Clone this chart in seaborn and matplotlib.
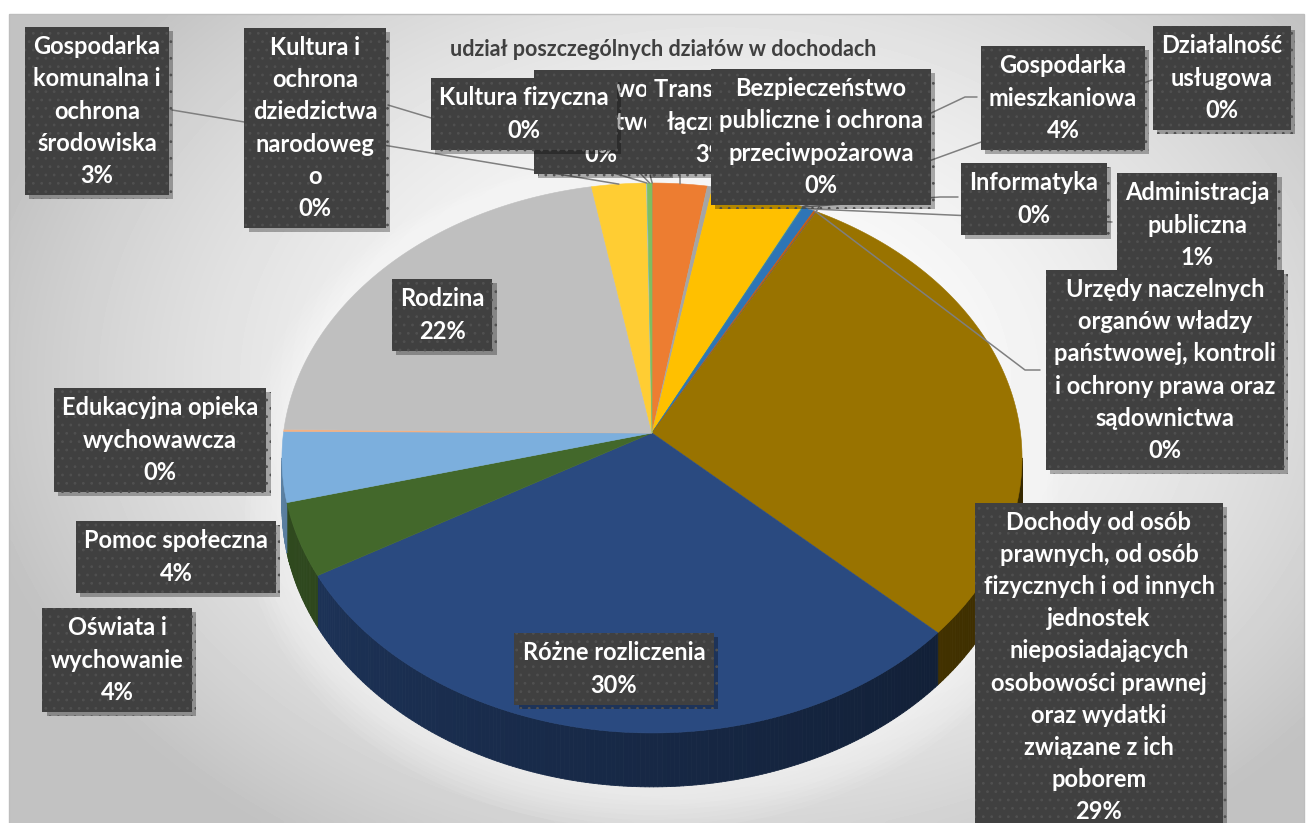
import numpy as np
import matplotlib.pyplot as plt
import matplotlib.patheffects as pe
from matplotlib.collections import PolyCollection
from matplotlib.patches import Rectangle
import seaborn as sns

# ---- data ----
categories = [
    "Rolnictwo i\nłowiectwo",
    "Transport i\nłączność",
    "Turystyka",
    "Gospodarka\nmieszkaniowa",
    "Działalność\nusługowa",
    "Informatyka",
    "Administracja\npubliczna",
    "Urzędy naczelnych\norganów władzy\npaństwowej, kontroli\ni ochrony prawa oraz\nsądownictwa",
    "Bezpieczeństwo\npubliczne i ochrona\nprzeciwpożarowa",
    "Dochody od osób\nprawnych, od osób\nfizycznych i od innych\njednostek\nnieposiadających\nosobowości prawnej\noraz wydatki\nzwiązane z ich\npoborem",
    "Różne rozliczenia",
    "Oświata i\nwychowanie",
    "Pomoc społeczna",
    "Edukacyjna opieka\nwychowawcza",
    "Rodzina",
    "Gospodarka\nkomunalna i\nochrona\nśrodowiska",
    "Kultura i\nochrona\ndziedzictwa\nnarodoweg\no",
    "Kultura fizyczna",
]
shares = [0.02, 2.6, 0.25, 4.4, 0.02, 0.02, 0.55, 0.1, 0.04,
          29.0, 29.6, 4.3, 4.1, 0.12, 21.9, 2.6, 0.03, 0.23]
slice_colors = ["#4472C4", "#ED7D31", "#A5A5A5", "#FFC000", "#5B9BD5", "#70AD47",
                "#2E75B6", "#C55A11", "#636363", "#997300", "#2A4A80", "#43682B",
                "#7CAFDD", "#F4B183", "#BFBFBF", "#FFCD33", "#9DC3E6", "#7FBF5F"]
title = "udział poszczególnych działów w dochodach"

# ---- layout (pixel coordinates) ----
label_pos = {0: (601, 122), 1: (712, 122), 3: (1063, 98), 4: (1222, 78),
             5: (1034, 199), 6: (1197, 225), 7: (1165, 370), 8: (821, 137),
             9: (1099, 667), 10: (614, 669), 11: (117, 660), 12: (176, 557),
             13: (160, 440), 14: (442, 315), 15: (97, 111), 16: (315, 128),
             17: (524, 114)}
# leader line start points (box side), ending at the slice edge
leader_start = {15: [(172, 110)], 16: [(388, 105)], 17: [(618, 150)],
                0: [(650, 175)], 1: [(680, 175)], 8: [(820, 205)],
                3: [(977, 97), (965, 97)], 4: [(1152, 80)],
                5: [(958, 197), (940, 197)], 6: [(1112, 222)],
                7: [(1040, 370), (1025, 370)]}

CX, CY = 652, 433
RX, RY, K = 368.5, 272.7, 0.0909
DEPTH = 49


def project(theta, r=1.0, drop=0.0):
    X = r * np.sin(theta)
    Y = r * np.cos(theta)
    w = 1 + K * Y
    return CX + RX * X / w, CY - RY * Y / w + drop / w


def shade(hex_color, f):
    rgb = np.array(sns.color_palette([hex_color])[0])
    return tuple(rgb * f)


sns.set_theme(style="white")
plt.rcParams['font.family'] = ['Lato', 'DejaVu Sans']
plt.rcParams['hatch.linewidth'] = 0.8

fig = plt.figure(figsize=(13.06, 8.23), dpi=100, facecolor='white')
ax = fig.add_axes([0, 0, 1, 1])

# background radial gradient
gx, gy = np.meshgrid(np.linspace(9, 1304, 300), np.linspace(14, 823, 200))
rr = np.clip(((gx - 720) / 760) ** 2 + ((gy - 380) / 560) ** 2, 0, 1) ** 0.9
ax.imshow(1 - 0.24 * rr, extent=(9, 1304, 823, 14), cmap='gray', vmin=0, vmax=1,
          aspect='auto', zorder=0, interpolation='bicubic')
ax.add_patch(Rectangle((9, 14), 1295, 812, fill=False, ec='#BDBDBD', lw=1, zorder=1))

# soft glow around the pie
tt = np.linspace(0, 2 * np.pi, 400)
for s in np.linspace(1.10, 1.0, 8):
    gxs, gys = project(tt, r=s, drop=DEPTH + 8)
    txs, tys = project(tt, r=s)
    ax.fill(np.r_[gxs, txs], np.r_[gys, tys], color='white', alpha=0.08, lw=0, zorder=2)

total = sum(shares)
bounds = np.r_[0, np.cumsum(shares)] / total * 2 * np.pi
vis0, vis1 = np.arccos(-K), 2 * np.pi - np.arccos(-K)

# side walls
polys, fcols = [], []
for i, col in enumerate(slice_colors):
    a0, a1 = max(bounds[i], vis0), min(bounds[i + 1], vis1)
    if a1 <= a0:
        continue
    n = max(2, int((a1 - a0) / (2 * np.pi) * 600))
    t = np.linspace(a0, a1, n + 1)
    for j in range(n):
        tj = t[j:j + 2]
        x0, y0 = project(tj)
        x1, y1 = project(tj[::-1], drop=DEPTH)
        polys.append(np.c_[np.r_[x0, x1], np.r_[y0, y1]])
        deg = np.degrees(tj.mean())
        f = np.clip(0.4 + 0.3 * (deg - 120) / 130, 0.35, 0.75)
        fcols.append(shade(col, f))
ax.add_collection(PolyCollection(polys, facecolors=fcols, edgecolors=fcols,
                                 linewidths=0.6, zorder=3))

# top faces
for i, col in enumerate(slice_colors):
    n = max(2, int(shares[i] / total * 720))
    t = np.linspace(bounds[i], bounds[i + 1], n + 1)
    xs, ys = project(t)
    ax.fill(np.r_[CX, xs], np.r_[CY, ys], color=col, ec=col, lw=0.4, zorder=4)

# leader lines
for i, pts in leader_start.items():
    mid = (bounds[i] + bounds[i + 1]) / 2
    ex, ey = project(mid)
    lx = [p[0] for p in pts] + [ex]
    ly = [p[1] for p in pts] + [ey]
    ax.plot(lx, ly, color='#7F7F7F', lw=1.1, zorder=5)

# data labels
shadow = [pe.SimplePatchShadow(offset=(3, -3), shadow_rgbFace='black', alpha=0.3),
          pe.Normal()]
for i, (x, y) in label_pos.items():
    pct = f"{shares[i] / total * 100:.0f}%"
    t = ax.text(x, y, f"{categories[i]}\n{pct}", color='white', zorder=7 + i,
                ha='center', va='center', multialignment='center', fontsize=17,
                fontweight='bold', linespacing=1.48,
                bbox=dict(boxstyle='square,pad=0.35', fc='#404040', ec='#505050',
                          lw=0, hatch='..'))
    t.get_bbox_patch().set_path_effects(shadow)

ax.text(663, 49, title, ha='center', va='center', fontsize=15.5,
        fontweight='bold', color='#404040', zorder=60)

ax.set_xlim(0, 1306)
ax.set_ylim(823, 0)
ax.axis('off')
fig.savefig('out.png', dpi=100, facecolor='white')
